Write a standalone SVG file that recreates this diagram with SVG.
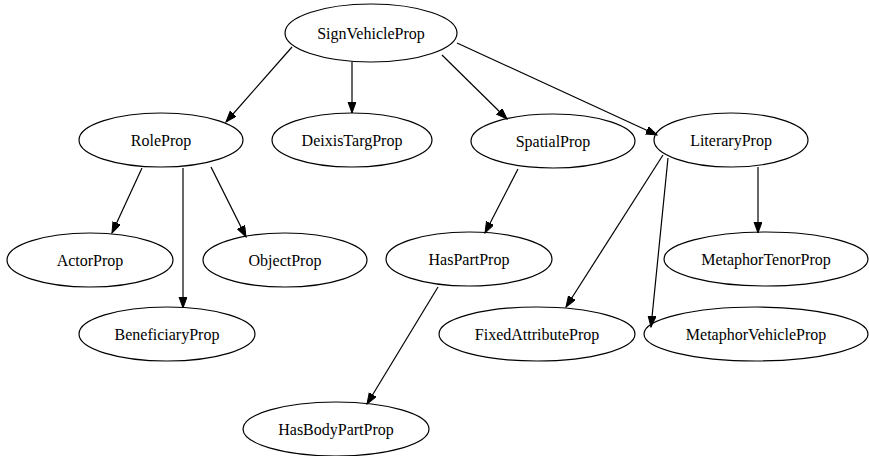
<svg xmlns="http://www.w3.org/2000/svg" width="869" height="456" viewBox="0 0 869 456">
  <style>
    .node ellipse { fill: none; stroke: #000; stroke-width: 1.2; }
    .node text { font-family: "Liberation Serif", "Times New Roman", serif; font-size: 16px; fill: #000; text-anchor: middle; dominant-baseline: central; }
    .edges line { stroke: #000; stroke-width: 1.2; marker-end: url(#arrow); }
  </style>
  <defs>
    <marker id="arrow" markerUnits="userSpaceOnUse" markerWidth="12" markerHeight="9" refX="11" refY="4" orient="auto">
      <path d="M0,0 L11,4 L0,8 z" fill="#000" stroke="#000" stroke-width="1"/>
    </marker>
  </defs>
  <rect width="869" height="456" fill="#fff"/>

  <g class="edges" id="edges">
    <line x1="292" y1="47" x2="226" y2="122"/>
    <line x1="352" y1="62" x2="352" y2="113"/>
    <line x1="442" y1="55" x2="507" y2="119"/>
    <line x1="457" y1="43" x2="657" y2="135"/>
    <line x1="142" y1="168" x2="112" y2="233"/>
    <line x1="183" y1="168" x2="183" y2="308"/>
    <line x1="211" y1="167" x2="246" y2="237"/>
    <line x1="518" y1="169" x2="485" y2="233"/>
    <line x1="438" y1="287" x2="367" y2="404"/>
    <line x1="663" y1="155" x2="566" y2="307"/>
    <line x1="668" y1="158" x2="651" y2="327"/>
    <line x1="758" y1="167" x2="758" y2="233"/>
  </g>

  <g class="node" id="SignVehicleProp">
    <ellipse cx="371" cy="33" rx="86" ry="29"/>
    <text x="371" y="33">SignVehicleProp</text>
  </g>
  <g class="node" id="RoleProp">
    <ellipse cx="161" cy="140" rx="82" ry="27"/>
    <text x="161" y="140">RoleProp</text>
  </g>
  <g class="node" id="DeixisTargProp">
    <ellipse cx="352" cy="140" rx="80" ry="27"/>
    <text x="352" y="140">DeixisTargProp</text>
  </g>
  <g class="node" id="SpatialProp">
    <ellipse cx="553" cy="141" rx="82" ry="27"/>
    <text x="553" y="141">SpatialProp</text>
  </g>
  <g class="node" id="LiteraryProp">
    <ellipse cx="731" cy="140" rx="77" ry="27"/>
    <text x="731" y="140">LiteraryProp</text>
  </g>
  <g class="node" id="ActorProp">
    <ellipse cx="90" cy="260" rx="83" ry="27"/>
    <text x="90" y="260">ActorProp</text>
  </g>
  <g class="node" id="ObjectProp">
    <ellipse cx="285" cy="260" rx="82" ry="27"/>
    <text x="285" y="260">ObjectProp</text>
  </g>
  <g class="node" id="HasPartProp">
    <ellipse cx="469" cy="259" rx="83" ry="27"/>
    <text x="469" y="259">HasPartProp</text>
  </g>
  <g class="node" id="MetaphorTenorProp">
    <ellipse cx="766" cy="259" rx="102" ry="27"/>
    <text x="766" y="259">MetaphorTenorProp</text>
  </g>
  <g class="node" id="BeneficiaryProp">
    <ellipse cx="167" cy="334" rx="88" ry="27"/>
    <text x="167" y="334">BeneficiaryProp</text>
  </g>
  <g class="node" id="FixedAttributeProp">
    <ellipse cx="537" cy="334" rx="98" ry="27"/>
    <text x="537" y="334">FixedAttributeProp</text>
  </g>
  <g class="node" id="MetaphorVehicleProp">
    <ellipse cx="756" cy="334" rx="112" ry="27"/>
    <text x="756" y="334">MetaphorVehicleProp</text>
  </g>
  <g class="node" id="HasBodyPartProp">
    <ellipse cx="336" cy="429" rx="93" ry="27"/>
    <text x="336" y="429">HasBodyPartProp</text>
  </g>
</svg>
